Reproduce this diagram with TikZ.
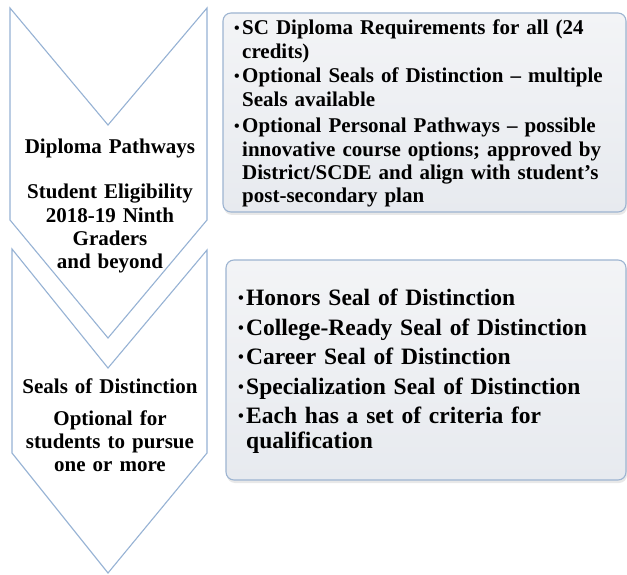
\documentclass[tikz,border=0pt]{standalone}
\usepackage{fontspec}
\setmainfont{Liberation Serif}
\usetikzlibrary{shadows}
\definecolor{chev}{HTML}{96B2D4}
\definecolor{boxline}{HTML}{9DB4D1}
\definecolor{boxtop}{HTML}{F3F4F6}
\definecolor{boxbot}{HTML}{E7EAEF}
\newcommand{\bulA}{\makebox[8.1pt][l]{\raisebox{1.4pt}{\fontsize{16}{16}\selectfont\textbullet}}}
\newcommand{\indA}{\hspace*{8.1pt}}
\newcommand{\bulB}{\makebox[8.2pt][l]{\raisebox{1.8pt}{\fontsize{16.5}{16.5}\selectfont\textbullet}}}
\newcommand{\indB}{\hspace*{8.2pt}}
\begin{document}
\begin{tikzpicture}[x=1pt,y=-1pt,
  chevron/.style={draw=chev, line width=1.1pt, fill=white, line join=miter},
  infobox/.style={draw=boxline, line width=1.1pt, rounded corners=8pt,
     top color=boxtop, bottom color=boxbot,
     drop shadow={opacity=0.18, shadow xshift=1pt, shadow yshift=-3pt}},
  lefttxt/.style={anchor=base, text width=200pt, align=center, inner sep=0pt,
     font=\fontsize{21}{23.3}\selectfont\bfseries},
  itemA/.style={anchor=base west, text width=400pt, align=left, inner sep=0pt,
     font=\fontsize{21}{23.3}\selectfont\bfseries},
  itemB/.style={anchor=base west, text width=400pt, align=left, inner sep=0pt,
     font=\fontsize{23.5}{25}\selectfont\bfseries}]
\useasboundingbox (0,0) rectangle (627,575);
% chevrons
\draw[chevron] (12,249) -- (108,368) -- (207,250) -- (207,453) -- (108,573) -- (12,453) -- cycle;
\draw[chevron] (10,8) -- (108,125) -- (207,8) -- (207,220) -- (108,338) -- (10,220) -- cycle;
% boxes
\path[infobox] (223,13) rectangle (626,212);
\path[infobox] (226,260) rectangle (626,480);
% left texts
\node[lefttxt] (t1) at (110,154) {Diploma Pathways};
\node[lefttxt] (t2) at (110,199) {Student Eligibility\\2018-19 Ninth\\Graders\\and beyond};
\node[lefttxt] (t3) at (110,393) {Seals of Distinction};
\node[lefttxt] (t4) at (110,425) {Optional for\\students to pursue\\one or more};
% box 1 items
\node[itemA] (a1) at (233.9,35) {\bulA SC Diploma Requirements for all (24\\\indA credits)};
\node[itemA] (a2) at (233.9,83) {\bulA Optional Seals of Distinction – multiple\\\indA Seals available};
\node[itemA] (a3) at (233.9,133) {\bulA Optional Personal Pathways – possible\\\indA innovative course options; approved by\\\indA District/SCDE and align with student’s\\\indA post-secondary plan};
% box 2 items
\node[itemB] (b1) at (237.8,305) {\bulB Honors Seal of Distinction};
\node[itemB] (b2) at (237.8,335) {\bulB College-Ready Seal of Distinction};
\node[itemB] (b3) at (237.8,364) {\bulB Career Seal of Distinction};
\node[itemB] (b4) at (237.8,394) {\bulB Specialization Seal of Distinction};
\node[itemB] (b5) at (237.8,423) {\bulB Each has a set of criteria for\\\indB qualification};
\end{tikzpicture}
\end{document}
